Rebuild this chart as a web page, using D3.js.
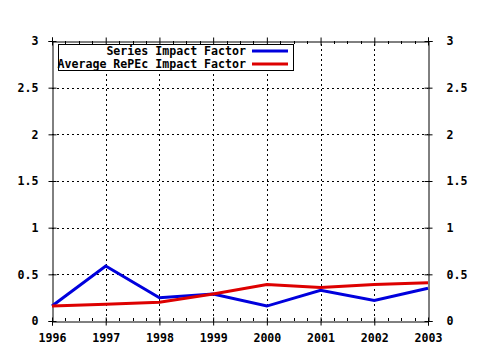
<!DOCTYPE html>
<html><head><meta charset="utf-8">
<script src="https://cdnjs.cloudflare.com/ajax/libs/d3/7.8.5/d3.min.js"></script>
<style>body{margin:0;background:#fff}svg{display:block}text{font-family:"DejaVu Sans Mono",monospace;font-weight:bold;font-size:11.6px}</style>
</head><body>
<script>
const years = [1996,1997,1998,1999,2000,2001,2002,2003];
const seriesIF = [0.16,0.59,0.25,0.29,0.16,0.33,0.22,0.35];
const averageIF = [0.16,0.18,0.20,0.29,0.39,0.36,0.39,0.41];
const yTicks = [0,0.5,1,1.5,2,2.5,3];
const yTickLabels = ["0","0.5","1","1.5","2","2.5","3"];
const seriesNames = ["Series Impact Factor","Average RePEc Impact Factor"];
const colors = ["#0000dd","#dd0000"];

const W=480,H=350;
const FS="11.6px";
const svg=d3.select("body").append("svg").attr("width",W).attr("height",H);
const x=d3.scaleLinear().domain([1996,2003]).range([52,428]);
const y=d3.scaleLinear().domain([0,3]).range([321,41]);

// grid
const g=svg.append("g");
g.selectAll(".vg").data(years.slice(1,-1)).enter().append("line")
 .attr("x1",d=>Math.round(x(d))+0.5).attr("x2",d=>Math.round(x(d))+0.5).attr("y1",y(0)).attr("y2",y(3))
 .attr("stroke","#000").attr("stroke-dasharray","2,3");
g.selectAll(".hg").data(yTicks.slice(1,-1)).enter().append("line")
 .attr("x1",x(1996)).attr("x2",x(2003)).attr("y1",d=>Math.round(y(d))+0.5).attr("y2",d=>Math.round(y(d))+0.5)
 .attr("stroke","#000").attr("stroke-dasharray","2,3");

// minor ticks
const minor=[];
for(let i=0;i<years.length-1;i++){for(let k=1;k<4;k++)minor.push(years[i]+k/4);}
g.selectAll(".mb").data(minor).enter().append("line")
 .attr("x1",d=>Math.round(x(d))+0.5).attr("x2",d=>Math.round(x(d))+0.5).attr("y1",y(0)).attr("y2",y(0)-3).attr("stroke","#000");
g.selectAll(".mt").data(minor).enter().append("line")
 .attr("x1",d=>Math.round(x(d))+0.5).attr("x2",d=>Math.round(x(d))+0.5).attr("y1",y(3)).attr("y2",y(3)+3).attr("stroke","#000");

// axes
const axB=svg.append("g").attr("transform",`translate(0,${y(0)+0.5})`)
 .call(d3.axisBottom(x).tickValues(years).tickFormat(d3.format("d")).tickSize(4).tickPadding(8));
const axT=svg.append("g").attr("transform",`translate(0,${y(3)+0.5})`)
 .call(d3.axisTop(x).tickValues(years).tickFormat("").tickSize(4));
const axL=svg.append("g").attr("transform",`translate(${x(1996)+0.5},0)`)
 .call(d3.axisLeft(y).tickValues(yTicks).tickFormat((d,i)=>yTickLabels[i]).tickSize(4).tickPadding(10));
const axR=svg.append("g").attr("transform",`translate(${x(2003)+0.5},0)`)
 .call(d3.axisRight(y).tickValues(yTicks).tickFormat((d,i)=>yTickLabels[i]).tickSize(4).tickPadding(14));
[axB,axT,axL,axR].forEach(a=>{
  a.select(".domain").attr("stroke","#000").attr("stroke-width",1);
  a.selectAll(".tick line").attr("stroke","#000");
  a.selectAll("text").attr("fill","#000").style("font-family",'"DejaVu Sans Mono",monospace').style("font-weight","bold").style("font-size",FS);
});
[axL,axR].forEach(a=>a.selectAll(".tick line").attr("x1",4).attr("x2",-4));
[axB,axT].forEach(a=>a.selectAll(".tick line").attr("y1",4).attr("y2",-4));

// lines
const line=d3.line().x((d,i)=>x(years[i])).y(d=>y(d));
[seriesIF,averageIF].forEach((s,i)=>{
  svg.append("path").datum(s).attr("d",line).attr("fill","none")
   .attr("stroke",colors[i]).attr("stroke-width",3).attr("stroke-linejoin","miter");
});

// legend
const lg=svg.append("g");
lg.append("rect").attr("x",58.5).attr("y",44.5).attr("width",235).attr("height",26)
 .attr("fill","#fff").attr("stroke","#000");
seriesNames.forEach((n,i)=>{
  const yy=51+i*13;
  lg.append("text").attr("x",246).attr("y",yy+4).attr("text-anchor","end").style("font-size",FS).text(n);
  lg.append("line").attr("x1",252).attr("x2",288).attr("y1",yy).attr("y2",yy)
   .attr("stroke",colors[i]).attr("stroke-width",3);
});
</script>
</body></html>
